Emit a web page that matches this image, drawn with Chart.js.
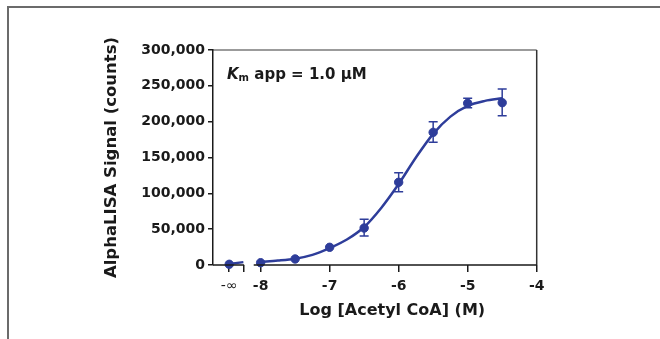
<!DOCTYPE html>
<html>
<head>
<meta charset="utf-8">
<script src="https://cdn.jsdelivr.net/npm/chart.js@4.4.1/dist/chart.umd.min.js"></script>
<style>
  html, body { margin: 0; padding: 0; background: #fff; }
  #wrap { width: 660px; height: 339px; }
</style>
</head>
<body>
<div id="wrap"><canvas id="c" width="660" height="339"></canvas></div>
<script>
// broken x axis: the "-inf" well (no substrate) sits left of the break
const NEG_INF = -8.455;
const AXIS_BREAK = -8.25;
const AXIS_RESTART = -8.1;

const doseX   = [NEG_INF, -8, -7.5, -7, -6.5, -6, -5.5, -5, -4.5];
const signal  = [1000, 3200, 8400, 24700, 51600, 115400, 185100, 225600, 226500];
const errLow  = [1000, 3200, 8400, 24700, 40500, 102300, 171200, 219500, 208400];
const errHigh = [1000, 3200, 8400, 24700, 63700, 128800, 200000, 232600, 245600];

// fitted curve
const fitStubX = [NEG_INF, AXIS_BREAK];
const fitStubY = [1500, 4000];
const fitX = [-8, -7.75, -7.5, -7.25, -7, -6.75, -6.5, -6.25, -6, -5.75, -5.5, -5.25, -5, -4.75, -4.5];
const fitY = [4500, 6200, 8800, 14200, 23500, 35500, 53000, 80000, 113000, 150000, 183000, 207000, 222000, 229000, 232600];

const xTicks = [NEG_INF, AXIS_BREAK, -8, -7, -6, -5, -4];
const yTicks = [0, 50000, 100000, 150000, 200000, 250000, 300000];

const BLUE = '#2e3d9a';
const INK = '#1a1a1a';
const FONT = '"DejaVu Sans", sans-serif';

const pts = (xs, ys) => xs.map((x, i) => ({ x: x, y: ys[i] }));

const decor = {
  id: 'decor',
  beforeDraw(chart) {
    const ctx = chart.ctx;
    const a = chart.chartArea;
    ctx.save();
    // outer figure frame (top + left)
    ctx.strokeStyle = '#6b6b6b';
    ctx.lineWidth = 2;
    ctx.beginPath();
    ctx.moveTo(660, 7); ctx.lineTo(8, 7); ctx.lineTo(8, 339);
    ctx.stroke();
    // plot box top + right
    ctx.lineWidth = 1.5;
    ctx.strokeStyle = '#7a7a7a';
    ctx.beginPath();
    ctx.moveTo(a.left, a.top); ctx.lineTo(a.right, a.top);
    ctx.stroke();
    ctx.strokeStyle = '#333';
    ctx.beginPath();
    ctx.moveTo(a.right, a.top); ctx.lineTo(a.right, a.bottom);
    ctx.stroke();
    ctx.restore();
  },
  afterDatasetsDraw(chart) {
    const ctx = chart.ctx;
    const xs = chart.scales.x, ys = chart.scales.y;
    ctx.save();
    ctx.strokeStyle = BLUE;
    ctx.lineWidth = 1.5;
    doseX.forEach((d, i) => {
      if (errHigh[i] - errLow[i] < 5000) return;
      const px = xs.getPixelForValue(d);
      const top = ys.getPixelForValue(errHigh[i]);
      const bot = ys.getPixelForValue(errLow[i]);
      ctx.beginPath();
      ctx.moveTo(px, top); ctx.lineTo(px, bot);
      ctx.moveTo(px - 4.5, top); ctx.lineTo(px + 4.5, top);
      ctx.moveTo(px - 4.5, bot); ctx.lineTo(px + 4.5, bot);
      ctx.stroke();
    });
    ctx.restore();
  },
  afterDraw(chart) {
    const ctx = chart.ctx;
    const a = chart.chartArea;
    const xs = chart.scales.x;
    ctx.save();
    // broken x axis line
    ctx.strokeStyle = INK;
    ctx.lineWidth = 1.5;
    ctx.beginPath();
    ctx.moveTo(a.left, a.bottom); ctx.lineTo(xs.getPixelForValue(AXIS_BREAK) + 0.75, a.bottom);
    ctx.moveTo(xs.getPixelForValue(AXIS_RESTART), a.bottom); ctx.lineTo(a.right, a.bottom);
    ctx.stroke();

    // x axis title
    ctx.fillStyle = INK;
    ctx.font = 'bold 16px ' + FONT;
    ctx.textAlign = 'center';
    ctx.textBaseline = 'middle';
    ctx.fillText('Log [Acetyl CoA] (M)', (xs.getPixelForValue(AXIS_RESTART) + a.right) / 2 - 3, 311);

    // Km annotation
    let x = a.left + 14;
    const base = a.top + 28.5;
    ctx.textAlign = 'left';
    ctx.textBaseline = 'alphabetic';
    ctx.font = 'italic bold 15px ' + FONT;
    ctx.fillText('K', x, base);
    x += ctx.measureText('K').width;
    ctx.font = 'bold 10px ' + FONT;
    ctx.fillText('m', x, base + 2.5);
    x += ctx.measureText('m').width;
    ctx.font = 'bold 15px ' + FONT;
    ctx.fillText(' app = 1.0 µM', x, base);
    ctx.restore();
  }
};

new Chart(document.getElementById('c'), {
  type: 'scatter',
  data: {
    datasets: [
      {
        data: pts(doseX, signal),
        backgroundColor: BLUE,
        borderColor: BLUE,
        pointRadius: 4.2,
        pointHoverRadius: 4.2,
        clip: false
      },
      {
        data: pts(fitStubX, fitStubY),
        showLine: true,
        borderColor: BLUE,
        borderWidth: 2.5,
        pointRadius: 0,
        clip: false
      },
      {
        data: pts(fitX, fitY),
        showLine: true,
        borderColor: BLUE,
        borderWidth: 2.5,
        pointRadius: 0,
        cubicInterpolationMode: 'monotone',
        clip: false
      }
    ]
  },
  options: {
    responsive: false,
    animation: false,
    devicePixelRatio: 1,
    layout: { padding: { left: 98, right: 123.3, top: 50, bottom: 0 } },
    plugins: { legend: { display: false }, tooltip: { enabled: false } },
    scales: {
      x: {
        type: 'linear',
        min: -8.69,
        max: -4,
        afterFit: s => { s.height = 74; },
        afterBuildTicks: s => { s.ticks = xTicks.map(v => ({ value: v })); },
        border: { display: false },
        grid: { drawOnChartArea: false, drawTicks: true, tickLength: 7, color: INK, lineWidth: 1.5 },
        ticks: {
          autoSkip: false,
          maxRotation: 0,
          padding: 6,
          color: INK,
          font: c => ({ family: FONT, size: 14, weight: (c.tick && c.tick.value === NEG_INF) ? 'normal' : 'bold' }),
          callback: v => v === NEG_INF ? '-∞' : (v === AXIS_BREAK ? '' : String(v))
        }
      },
      y: {
        min: 0,
        max: 300000,
        afterFit: s => { s.width = 115; },
        afterBuildTicks: s => { s.ticks = yTicks.map(v => ({ value: v })); },
        border: { display: true, color: INK, width: 1.5 },
        grid: { drawOnChartArea: false, drawTicks: true, tickLength: 5, color: INK, lineWidth: 1.5 },
        ticks: {
          padding: 3,
          color: INK,
          font: { family: FONT, size: 14, weight: 'bold' },
          callback: v => v.toLocaleString('en-US')
        },
        title: {
          display: true,
          text: 'AlphaLISA Signal (counts)',
          color: INK,
          padding: { top: 4, bottom: 4 },
          font: { family: FONT, size: 16.5, weight: 'bold' }
        }
      }
    }
  },
  plugins: [decor]
});
</script>
</body>
</html>
